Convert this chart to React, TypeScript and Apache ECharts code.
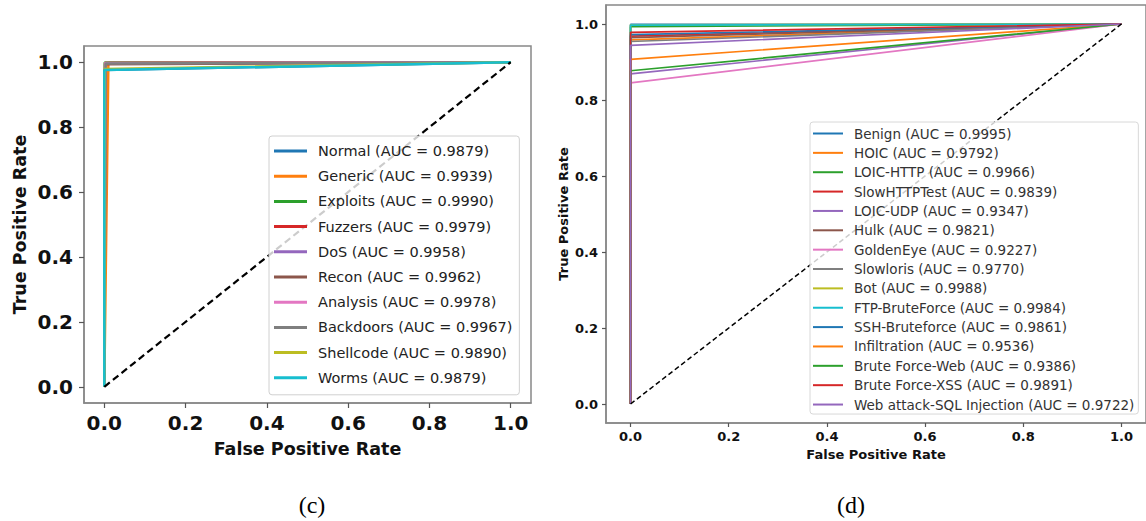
import React, { useEffect, useRef } from "react";
import * as echarts from "echarts";

// ---- Panel (c) ----
const classesC = ["Normal", "Generic", "Exploits", "Fuzzers", "DoS", "Recon", "Analysis", "Backdoors", "Shellcode", "Worms"];
const aucC = [0.9879, 0.9939, 0.999, 0.9979, 0.9958, 0.9962, 0.9978, 0.9967, 0.989, 0.9879];
const fprC = [0.0, 0.01, 0.001, 0.002, 0.003, 0.002, 0.002, 0.003, 0.001, 0.0];
const tprC = [0.976, 0.998, 0.999, 0.998, 0.995, 0.994, 0.998, 0.996, 0.979, 0.976];

// ---- Panel (d) ----
const classesD = ["Benign", "HOIC", "LOIC-HTTP", "SlowHTTPTest", "LOIC-UDP", "Hulk", "GoldenEye", "Slowloris", "Bot", "FTP-BruteForce", "SSH-Bruteforce", "Infiltration", "Brute Force-Web", "Brute Force-XSS", "Web attack-SQL Injection"];
const aucD = [0.9995, 0.9792, 0.9966, 0.9839, 0.9347, 0.9821, 0.9227, 0.977, 0.9988, 0.9984, 0.9861, 0.9536, 0.9386, 0.9891, 0.9722];
const fprD = [0, 0, 0, 0, 0, 0, 0, 0, 0, 0, 0, 0, 0, 0, 0];
const tprD = [0.999, 0.958, 0.993, 0.968, 0.869, 0.964, 0.845, 0.954, 0.998, 0.997, 0.972, 0.907, 0.877, 0.978, 0.944];

const tickValues = [0, 0.2, 0.4, 0.6, 0.8, 1.0];
const palette = ["#1f77b4", "#ff7f0e", "#2ca02c", "#d62728", "#9467bd", "#8c564b", "#e377c2", "#7f7f7f", "#bcbd22", "#17becf"];

const FONT = "DejaVu Sans";

function labelOf(name: string, auc: number) {
  return `${name} (AUC = ${auc.toFixed(4)})`;
}

function makeAxes(gi: number, big: boolean, axis: "x" | "y") {
  const fs = big ? 20 : 13;
  const base: any = {
    gridIndex: gi,
    type: "value",
    min: -0.05,
    max: 1.05,
    axisLine: { show: true, onZero: false, lineStyle: { color: "#888", width: 1.5 } },
    splitLine: { show: false },
    axisTick: {
      show: true,
      customValues: tickValues,
      length: big ? 5 : 4,
      lineStyle: { color: "#555", width: 1.2 },
    },
    axisLabel: {
      customValues: tickValues,
      formatter: (v: number) => v.toFixed(1),
      fontSize: fs,
      fontWeight: "bold",
      fontFamily: FONT,
      color: "#111",
      margin: axis === "x" ? (big ? 10 : 7) : big ? 11 : 8,
    },
    name: axis === "x" ? "False Positive Rate" : "True Positive Rate",
    nameLocation: "middle",
    nameTextStyle: {
      fontSize: big ? 17.5 : 13,
      fontWeight: "bold",
      fontFamily: FONT,
      color: "#111",
    },
  };
  if (axis === "x") base.nameGap = big ? 37 : 23;
  else base.nameGap = big ? 55 : 36;
  return base;
}

export default function App() {
  const ref = useRef<HTMLDivElement>(null);

  useEffect(() => {
    if (!ref.current) return;
    const chart = echarts.init(ref.current, undefined, { renderer: "svg" });

    const namesC = classesC.map((c, i) => labelOf(c, aucC[i]));
    const namesD = classesD.map((c, i) => labelOf(c, aucD[i]));

    const series: any[] = [];
    namesC.forEach((n, i) => {
      series.push({
        name: n,
        type: "line",
        xAxisIndex: 0,
        yAxisIndex: 0,
        showSymbol: false,
        data: [
          [0, 0],
          [fprC[i], tprC[i]],
          [1, 1],
        ],
        lineStyle: { width: 2.5, color: palette[i % 10] },
        itemStyle: { color: palette[i % 10] },
        z: 2,
      });
    });
    series.push({
      name: "diagC",
      type: "line",
      xAxisIndex: 0,
      yAxisIndex: 0,
      showSymbol: false,
      data: [
        [0, 0],
        [1, 1],
      ],
      lineStyle: { width: 2.2, color: "#000", type: [7, 4] },
      z: 3,
    });
    namesD.forEach((n, i) => {
      series.push({
        name: n,
        type: "line",
        xAxisIndex: 1,
        yAxisIndex: 1,
        showSymbol: false,
        data: [
          [0, 0],
          [fprD[i], tprD[i]],
          [1, 1],
        ],
        lineStyle: { width: 1.7, color: palette[i % 10] },
        itemStyle: { color: palette[i % 10] },
        z: 2,
      });
    });
    series.push({
      name: "diagD",
      type: "line",
      xAxisIndex: 1,
      yAxisIndex: 1,
      showSymbol: false,
      data: [
        [0, 0],
        [1, 1],
      ],
      lineStyle: { width: 1.5, color: "#000", type: [5, 3] },
      z: 3,
    });

    chart.setOption({
      animation: false,
      backgroundColor: "#fff",
      grid: [
        { left: 84, top: 46, width: 447, height: 357, show: true, borderColor: "#888", borderWidth: 1.5, backgroundColor: "transparent" },
        { left: 606, top: 5, width: 548, height: 418, show: true, borderColor: "#888", borderWidth: 1.5, backgroundColor: "transparent" },
      ],
      xAxis: [makeAxes(0, true, "x"), makeAxes(1, false, "x")],
      yAxis: [makeAxes(0, true, "y"), makeAxes(1, false, "y")],
      legend: [
        {
          data: namesC,
          orient: "vertical",
          left: 269,
          top: 136,
          padding: [6, 7, 8, 5],
          icon: "rect",
          itemWidth: 33,
          itemHeight: 3,
          itemGap: 7.2,
          selectedMode: false,
          backgroundColor: "rgba(255,255,255,0.8)",
          borderColor: "#d0d0d0",
          borderWidth: 1,
          borderRadius: 3,
          textStyle: { fontSize: 14.5, fontFamily: FONT, color: "#222", lineHeight: 18, padding: [0, 0, 0, 6] },
          z: 10,
        },
        {
          data: namesD,
          orient: "vertical",
          left: 810,
          top: 122,
          padding: [4, 4, 2, 3],
          icon: "rect",
          itemWidth: 30,
          itemHeight: 2,
          itemGap: 4.36,
          selectedMode: false,
          backgroundColor: "rgba(255,255,255,0.8)",
          borderColor: "#d8d8d8",
          borderWidth: 1,
          borderRadius: 3,
          textStyle: { fontSize: 13.5, fontFamily: FONT, color: "#333", lineHeight: 15, padding: [0, 0, 0, 6] },
          z: 10,
        },
      ],
      graphic: [
        {
          type: "text",
          x: 312,
          y: 505,
          style: { text: "(c)", fontSize: 24, fontFamily: "Liberation Serif", fill: "#000", align: "center", verticalAlign: "middle" },
        },
        {
          type: "text",
          x: 851,
          y: 505,
          style: { text: "(d)", fontSize: 24, fontFamily: "Liberation Serif", fill: "#000", align: "center", verticalAlign: "middle" },
        },
      ],
      series,
    });

    return () => chart.dispose();
  }, []);

  return <div ref={ref} style={{ position: "absolute", left: 0, top: 0, width: 1146, height: 521 }} />;
}
